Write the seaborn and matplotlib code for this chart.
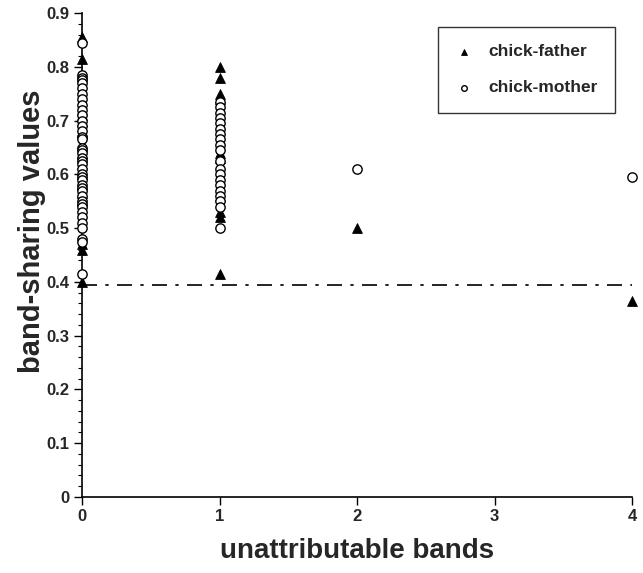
import matplotlib
matplotlib.use("Agg")
import matplotlib.pyplot as plt
import seaborn as sns
import pandas as pd
import numpy as np
from matplotlib.ticker import MultipleLocator

sns.set_style("ticks")
plt.rcParams['font.family'] = ['Liberation Sans', 'DejaVu Sans']
plt.rcParams['font.weight'] = 'bold'

# chick-father (filled triangles)
father_x = [0]*15 + [1]*10 + [2, 4]
father_y = [0.855, 0.815, 0.72, 0.71, 0.70, 0.68, 0.64, 0.62, 0.60, 0.58, 0.565, 0.55, 0.47, 0.46, 0.40,
            0.80, 0.78, 0.75, 0.74, 0.64, 0.63, 0.56, 0.53, 0.52, 0.415,
            0.50, 0.365]

# chick-mother (open circles)
mother_x = [0]*40 + [1]*20 + [2, 4]
mother_y = [0.845, 0.785, 0.78, 0.775, 0.77, 0.76, 0.75, 0.74, 0.73, 0.72, 0.71, 0.70, 0.69, 0.68, 0.67,
            0.665, 0.65, 0.645, 0.64, 0.63, 0.625, 0.62, 0.61, 0.60, 0.595, 0.59, 0.58, 0.575, 0.57, 0.56,
            0.55, 0.545, 0.54, 0.53, 0.52, 0.51, 0.50, 0.48, 0.475, 0.415,
            0.735, 0.725, 0.715, 0.705, 0.695, 0.685, 0.675, 0.665, 0.655, 0.645, 0.625, 0.61, 0.60, 0.59,
            0.58, 0.57, 0.56, 0.55, 0.54, 0.50,
            0.61, 0.595]

threshold = 0.395
xticks = [0, 1, 2, 3, 4]
yticks = [0, 0.1, 0.2, 0.3, 0.4, 0.5, 0.6, 0.7, 0.8, 0.9]
ytick_labels = ["0", "0.1", "0.2", "0.3", "0.4", "0.5", "0.6", "0.7", "0.8", "0.9"]

df_f = pd.DataFrame({"bands": father_x, "value": father_y})
df_m = pd.DataFrame({"bands": mother_x, "value": mother_y})

fig = plt.figure(figsize=(6.43, 5.73), dpi=100)
ax = fig.add_axes([0.1275, 0.133, 0.983 - 0.1275, 0.977 - 0.133])

sns.scatterplot(data=df_f, x="bands", y="value", marker="^", s=50, color="black",
                edgecolor="black", linewidth=0.6, ax=ax, label="chick-father", clip_on=False, zorder=4)
sns.scatterplot(data=df_m, x="bands", y="value", marker="o", s=45, facecolor="white",
                edgecolor="black", linewidth=1.0, ax=ax, label="chick-mother", clip_on=False, zorder=5)

ax.plot([0, 4], [threshold, threshold], color="black", linewidth=1.2,
        dashes=(9, 5, 2, 5), zorder=1)

ax.set_xlim(0, 4)
ax.set_ylim(0, 0.9)
ax.set_xticks(xticks)
ax.set_xticklabels([str(t) for t in xticks], fontsize=12, fontweight='bold')
ax.set_yticks(yticks)
ax.set_yticklabels(ytick_labels, fontsize=12, fontweight='bold')
ax.yaxis.set_minor_locator(MultipleLocator(0.02))
ax.tick_params(axis='both', which='major', direction='out', length=6, width=1, color='black', pad=3)
ax.tick_params(axis='y', which='minor', direction='out', length=3, width=0.8, color='black')
ax.tick_params(axis='x', which='minor', length=0)

for s in ["top", "right"]:
    ax.spines[s].set_visible(False)
for s in ["left", "bottom"]:
    ax.spines[s].set_color("black")
    ax.spines[s].set_linewidth(1.2)

ax.set_xlabel("unattributable bands", fontsize=20, fontweight='bold', labelpad=10)
ax.set_ylabel("band-sharing values", fontsize=21, fontweight='bold')
ax.yaxis.set_label_coords(-0.065, 0.55)

leg = ax.legend(loc="upper right", bbox_to_anchor=(0.985, 0.99), frameon=True, fancybox=False,
                edgecolor="black", fontsize=12.5, markerscale=0.6, labelspacing=1.2,
                borderpad=1.0, handletextpad=0.9, handlelength=1.0)
leg.get_frame().set_linewidth(1.0)
for t in leg.get_texts():
    t.set_fontweight('bold')

fig.savefig("out.png", dpi=100)
